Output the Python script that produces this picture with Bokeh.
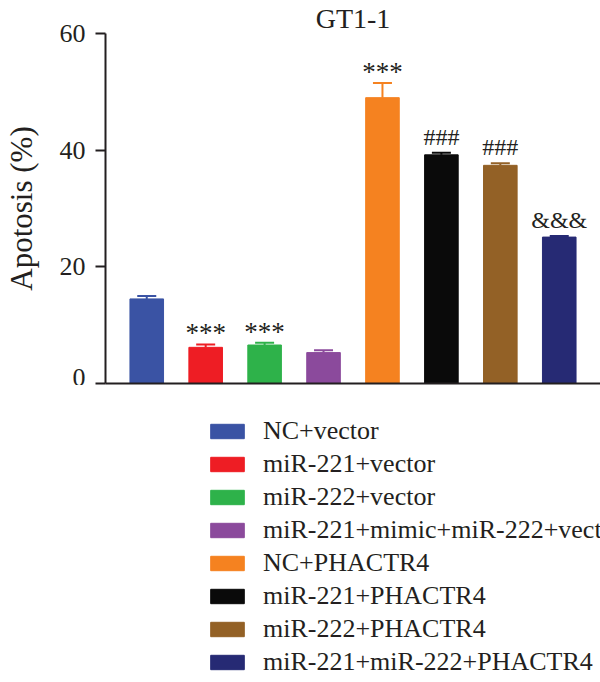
from bokeh.plotting import figure
from bokeh.layouts import column
from bokeh.models import (ColumnDataSource, FactorRange, Range1d, Legend, LegendItem,
                          FixedTicker, LinearAxis)
from bokeh.core.properties import value
from bokeh.embed import file_html
from bokeh.resources import INLINE

# ---- data ----
categories = ["NC+vector", "miR-221+vector", "miR-222+vector",
              "miR-221+mimic+miR-222+vector", "NC+PHACTR4",
              "miR-221+PHACTR4", "miR-222+PHACTR4", "miR-221+miR-222+PHACTR4"]
apoptosis = [14.5, 6.2, 6.6, 5.3, 49.0, 39.2, 37.4, 25.1]
errors = [0.5, 0.5, 0.4, 0.4, 2.5, 0.35, 0.35, 0.2]
marks = ["", "***", "***", "", "***", "###", "###", "&&&"]
colors = ["#3A53A4", "#EE1D24", "#2EB24A", "#8B4A9C",
          "#F58220", "#0A0A0A", "#936126", "#262A74"]
y_ticks = [0, 20, 40, 60]
title_text = "GT1-1"
y_label = "Apotosis (%)"

FONT = "Liberation Serif"
INK = "#231F20"

upper = [m + e for m, e in zip(apoptosis, errors)]
src = ColumnDataSource(dict(cat=categories, val=apoptosis, up=upper, color=colors))
star_src = ColumnDataSource(dict(cat=[c for c, m in zip(categories, marks) if m == "***"],
                                 up=[u for u, m in zip(upper, marks) if m == "***"],
                                 mark=[m for m in marks if m == "***"]))
other_src = ColumnDataSource(dict(cat=[c for c, m in zip(categories, marks) if m in ("###", "&&&")],
                                  up=[u for u, m in zip(upper, marks) if m in ("###", "&&&")],
                                  mark=[m for m in marks if m in ("###", "&&&")]))

# ---------------- chart ----------------
p = figure(width=600, height=385, output_backend="svg", toolbar_location=None,
           x_range=FactorRange(factors=categories, range_padding=0.2,
                               range_padding_units="absolute"),
           y_range=Range1d(0, 60), x_axis_location=None,
           min_border_left=100, min_border_right=0, min_border_top=0,
           min_border_bottom=2)

p.title.text = title_text
p.title.align = "center"
p.title.text_font = FONT
p.title.text_font_size = "28px"
p.title.text_font_style = "normal"
p.title.text_color = INK
p.title.standoff = 0
p.title.offset = 0

bars = p.vbar(x="cat", top="val", width=0.57, source=src, fill_color="color",
              line_color="color")
p.segment(x0="cat", y0="val", x1="cat", y1="up", source=src, line_color="color",
          line_width=2)
p.rect(x="cat", y="up", width=19, width_units="screen", height=2,
       height_units="screen", source=src, fill_color="color", line_color=None)

p.text(x="cat", y="up", text="mark", source=star_src, text_align="center",
       text_baseline="bottom", y_offset=4, text_font=value(FONT),
       text_font_size="27px", text_color=INK)
p.text(x="cat", y="up", text="mark", source=other_src, text_align="center",
       text_baseline="bottom", y_offset=-3, text_font=value(FONT),
       text_font_size="24px", text_color=INK)

p.grid.visible = False
p.outline_line_color = None

p.yaxis.ticker = FixedTicker(ticks=y_ticks)
p.yaxis.axis_line_width = 2
p.yaxis.axis_line_color = INK
p.yaxis.major_tick_line_width = 2
p.yaxis.major_tick_line_color = INK
p.yaxis.major_tick_out = 10
p.yaxis.major_tick_in = 0
p.yaxis.minor_tick_line_color = None
p.yaxis.major_label_standoff = 10
p.yaxis.major_label_text_font = FONT
p.yaxis.major_label_text_font_size = "26px"
p.yaxis.major_label_text_color = INK
p.yaxis.axis_label = y_label
p.yaxis.axis_label_text_font = FONT
p.yaxis.axis_label_text_font_size = "31px"
p.yaxis.axis_label_text_font_style = "normal"
p.yaxis.axis_label_text_color = INK
p.yaxis.axis_label_standoff = 18

# x axis: base line only
base = LinearAxis(ticker=FixedTicker(ticks=[]), axis_line_color=INK,
                  axis_line_width=2, major_tick_line_color=None,
                  minor_tick_line_color=None, major_tick_out=0,
                  major_tick_in=0, minor_tick_out=0, major_label_standoff=0)
p.add_layout(base, "below")

# ---------------- legend panel ----------------
lp = figure(width=600, height=297, output_backend="svg", toolbar_location=None,
            x_range=FactorRange(factors=categories), y_range=Range1d(100, 101),
            x_axis_location=None, y_axis_location=None,
            min_border_left=0, min_border_right=0, min_border_top=0,
            min_border_bottom=0)
lp.grid.visible = False
lp.outline_line_color = None
lbars = lp.vbar(x="cat", top="val", width=0.57, source=src, fill_color="color",
                line_color="color")

items = [LegendItem(label=c, renderers=[lbars], index=i) for i, c in enumerate(categories)]
legend = Legend(items=items, location=(101, 5), orientation="vertical",
                glyph_width=42, glyph_height=18, label_standoff=15,
                label_text_font=FONT, label_text_font_size="26px",
                label_text_color=INK, label_height=30, spacing=3,
                padding=0, margin=0, border_line_color=None,
                background_fill_alpha=0)
lp.add_layout(legend)

layout = column(p, lp, spacing=0)
open("out.html", "w").write(file_html(layout, INLINE))
